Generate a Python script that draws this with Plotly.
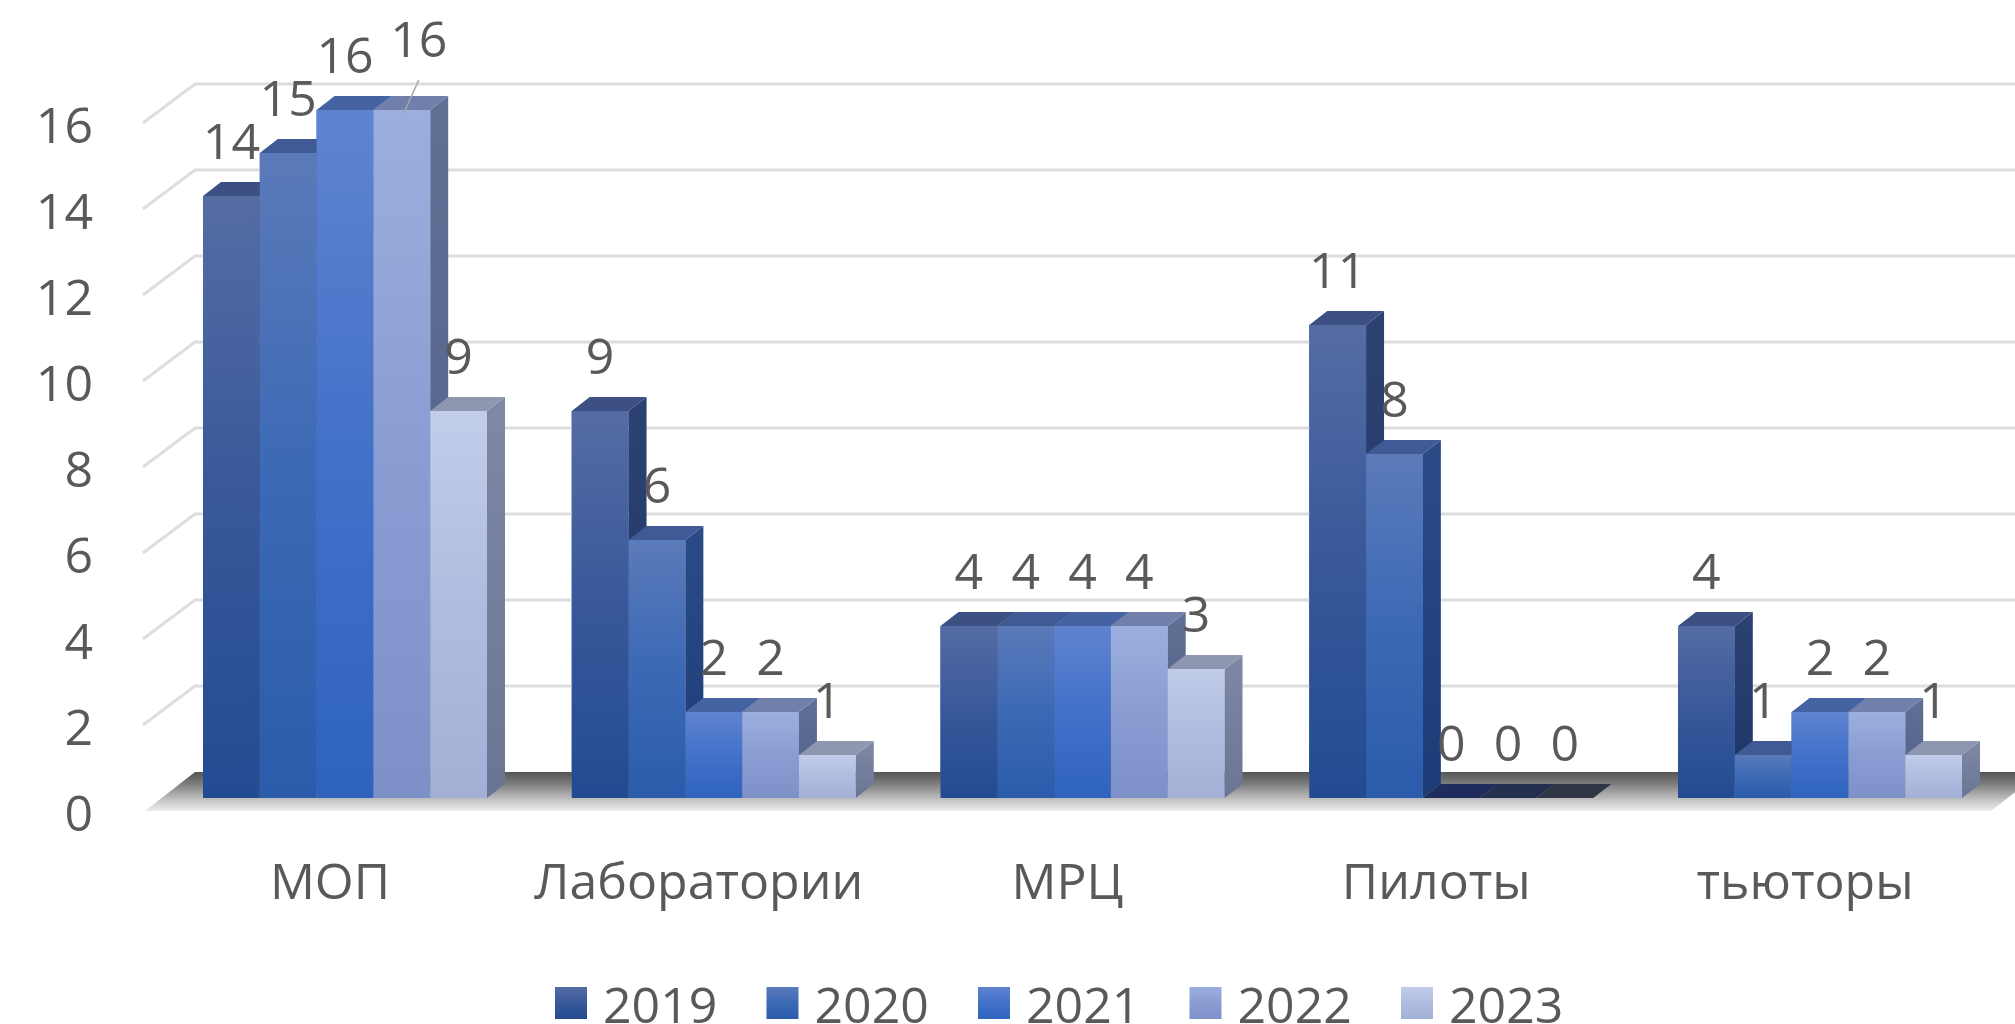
import plotly.graph_objects as go

categories = ["МОП", "Лаборатории", "МРЦ", "Пилоты", "тьюторы"]
years = ["2019", "2020", "2021", "2022", "2023"]
v2019 = [14, 9, 4, 11, 4]
v2020 = [15, 6, 4, 8, 1]
v2021 = [16, 2, 4, 0, 2]
v2022 = [16, 2, 4, 0, 2]
v2023 = [9, 1, 3, 0, 1]
series = [v2019, v2020, v2021, v2022, v2023]
y_ticks = [0, 2, 4, 6, 8, 10, 12, 14, 16]

front_top = ["#556ca3", "#5b7ab9", "#6083d0", "#9bafde", "#c2cdea"]
front_mid = ["#38589a", "#3c69b5", "#4271c9", "#8a9dd3", "#b0bcdf"]
front_bot = ["#234b91", "#2a5cab", "#2f63bf", "#7d90c8", "#a3b0d6"]
side_top = ["#2d4272", "#2c4b86", "#2e4c88", "#606f94", "#7f89a5"]
side_bot = ["#1c3468", "#1c3c78", "#1f4080", "#515f87", "#6a7595"]
top_col = ["#3d5084", "#3f5a94", "#4563a3", "#7080ab", "#8f97b0"]
zero_col = ["#1a2a58", "#1e2d5c", "#1e2d5c", "#252f50", "#2f3545"]

TEXT = "#595959"
FONT = "Open Sans"
FS = 50
PX_X = 368.75   # px per category
PX_Y = 43.0    # px per unit
L, R, T = 100, 0, 0
PLOT_BOTTOM = 820
W, H = 2015, 1024
x0_px, y0_px = 345.0, 798.0
dx = lambda p: p / PX_X
dy = lambda p: p / PX_Y
bw = 56.8 / PX_X
depth_x, depth_y = dx(18), dy(14)

fig = go.Figure()

# real bars (base layer, exactly beneath the shaded faces)
for k, (name, vals) in enumerate(zip(years, series)):
    fig.add_trace(go.Bar(x=list(range(5)), y=vals, name=name, width=bw,
                         marker=dict(color=front_bot[k], line_width=0),
                         showlegend=False, hoverinfo="skip"))


def poly(xs, ys, c1, c2=None, cm=None, **extra):
    kw = dict(x=xs, y=ys, mode="lines", line=dict(width=0), fill="toself",
              showlegend=False, hoverinfo="skip", **extra)
    if c2 is None:
        kw["fillcolor"] = c1
    else:
        scale = [[0, c2], [1, c1]] if cm is None else [[0, c2], [0.5, cm], [1, c1]]
        kw["fillgradient"] = dict(type="vertical", colorscale=scale)
    fig.add_trace(go.Scatter(**kw))


# floor
fx_front, fx_back = dx(145 - x0_px), dx(195 - x0_px)
fx_end = dx(1991 - x0_px)
fy_front, fy_back = dy(-13), dy(26)
fig.add_trace(go.Scatter(
    x=[fx_front, fx_back, fx_end + dx(50), fx_end, fx_front],
    y=[fy_front, fy_back, fy_back, fy_front, fy_front],
    mode="lines", line=dict(width=0), fill="toself",
    fillgradient=dict(type="vertical", colorscale=[
        [0, "#ececec"], [0.15, "#d8d8d8"], [0.4, "#b0b0b0"], [0.7, "#7c7c7c"], [1, "#555555"]]),
    showlegend=False, hoverinfo="skip"))

# wall grid
gx, gy = [], []
for v in y_ticks[1:]:
    gx += [dx(143 - x0_px), dx(195 - x0_px), dx(2015 - x0_px) + 0.01, None]
    gy += [v + dy(-13), v + dy(26), v + dy(26), None]
fig.add_trace(go.Scatter(x=gx, y=gy, mode="lines",
                         line=dict(color="#dddddd", width=3),
                         showlegend=False, hoverinfo="skip"))

# 3-D faces, painted left to right
for i in range(5):
    for k, vals in enumerate(series):
        v = vals[i]
        xl = i + (k - 2.5) * bw
        xr = xl + bw
        if v == 0:
            poly([xl, xl + depth_x, xr + depth_x, xr, xl],
                 [0, depth_y, depth_y, 0, 0], zero_col[k])
            continue
        poly([xr, xr + depth_x, xr + depth_x, xr, xr],
             [0, depth_y, v + depth_y, v, 0], side_top[k], side_bot[k])
        poly([xl, xl + depth_x, xr + depth_x, xr, xl],
             [v, v + depth_y, v + depth_y, v, v], top_col[k])
        poly([xl, xr, xr, xl, xl], [0, 0, v, v, 0], front_top[k], front_bot[k], front_mid[k])

# leader line of the moved label
lead_i, lead_k = 0, 3
cx = lead_i + (lead_k - 2) * bw
lead_v = series[lead_k][lead_i]
fig.add_trace(go.Scatter(x=[cx + dx(2.5), cx + dx(17)],
                         y=[lead_v + dy(-2), lead_v + dy(30)],
                         mode="lines", line=dict(color="#a6a6a6", width=1.5),
                         showlegend=False, hoverinfo="skip"))

# data labels
for k, vals in enumerate(series):
    xs, ys = [], []
    for i, v in enumerate(vals):
        x = i + (k - 2) * bw
        y = v + dy(50)
        if i == lead_i and k == lead_k:
            x += dx(17)
            y = v + dy(66)
        xs.append(x)
        ys.append(y)
    fig.add_trace(go.Scatter(x=xs, y=ys, mode="text", text=[str(v) for v in vals],
                             textposition="middle center",
                             textfont=dict(family=FONT, size=FS, color=TEXT),
                             showlegend=False, hoverinfo="skip", cliponaxis=False))

# legend: real entries with clear markers, large shaded swatches drawn beneath them
SW, SW_X0, SW_STEP, SW_YC = 32, 555, 211.5, 1003
for k, name in enumerate(years):
    fig.add_trace(go.Scatter(x=[None], y=[None], mode="markers", name=name,
                             marker=dict(symbol="square", size=16, color="rgba(0,0,0,0)",
                                         line_width=0)))
    sx = SW_X0 + k * SW_STEP
    poly([sx, sx + SW, sx + SW, sx, sx],
         [SW_YC - SW / 2, SW_YC - SW / 2, SW_YC + SW / 2, SW_YC + SW / 2, SW_YC - SW / 2],
         front_top[k], front_bot[k], front_mid[k], xaxis="x2", yaxis="y2")

fig.update_layout(
    width=W, height=H, autosize=False,
    margin=dict(l=L, r=R, t=T, b=0, pad=0, autoexpand=False),
    paper_bgcolor="white", plot_bgcolor="white",
    barmode="group", bargap=1 - 5 * bw, bargroupgap=0,
    font=dict(family=FONT, size=FS, color=TEXT),
    legend=dict(orientation="h", x=(563 - L) / (W - L), xanchor="left",
                y=(H - 1003) / H, yanchor="middle", itemwidth=30,
                entrywidth=166.5, entrywidthmode="pixels", bgcolor="rgba(0,0,0,0)",
                font=dict(family=FONT, size=FS, color=TEXT)),
    xaxis=dict(range=[(L - x0_px) / PX_X, (W - R - x0_px) / PX_X],
               tickmode="array", tickvals=[i + dx(-15) for i in range(5)],
               ticktext=categories, showgrid=False, zeroline=False, showline=False,
               ticks="", ticklabelstandoff=28, fixedrange=True),
    yaxis=dict(domain=[(H - PLOT_BOTTOM) / H, 1],
               range=[-(PLOT_BOTTOM - y0_px) / PX_Y, y0_px / PX_Y],
               tickmode="array", tickvals=[v + dy(-15) for v in y_ticks],
               ticktext=[str(v) for v in y_ticks], showgrid=False, zeroline=False,
               showline=False, ticks="", ticklabelstandoff=6, fixedrange=True),
    xaxis2=dict(domain=[0, 1], range=[L, W], visible=False, fixedrange=True, anchor="y2"),
    yaxis2=dict(domain=[0, (H - PLOT_BOTTOM) / H], range=[H, PLOT_BOTTOM], visible=False,
                fixedrange=True, anchor="x2"),
)

fig.write_html("out.html", config={"displayModeBar": False},
               post_script="document.body.style.margin='0';document.body.style.overflow='hidden';")
